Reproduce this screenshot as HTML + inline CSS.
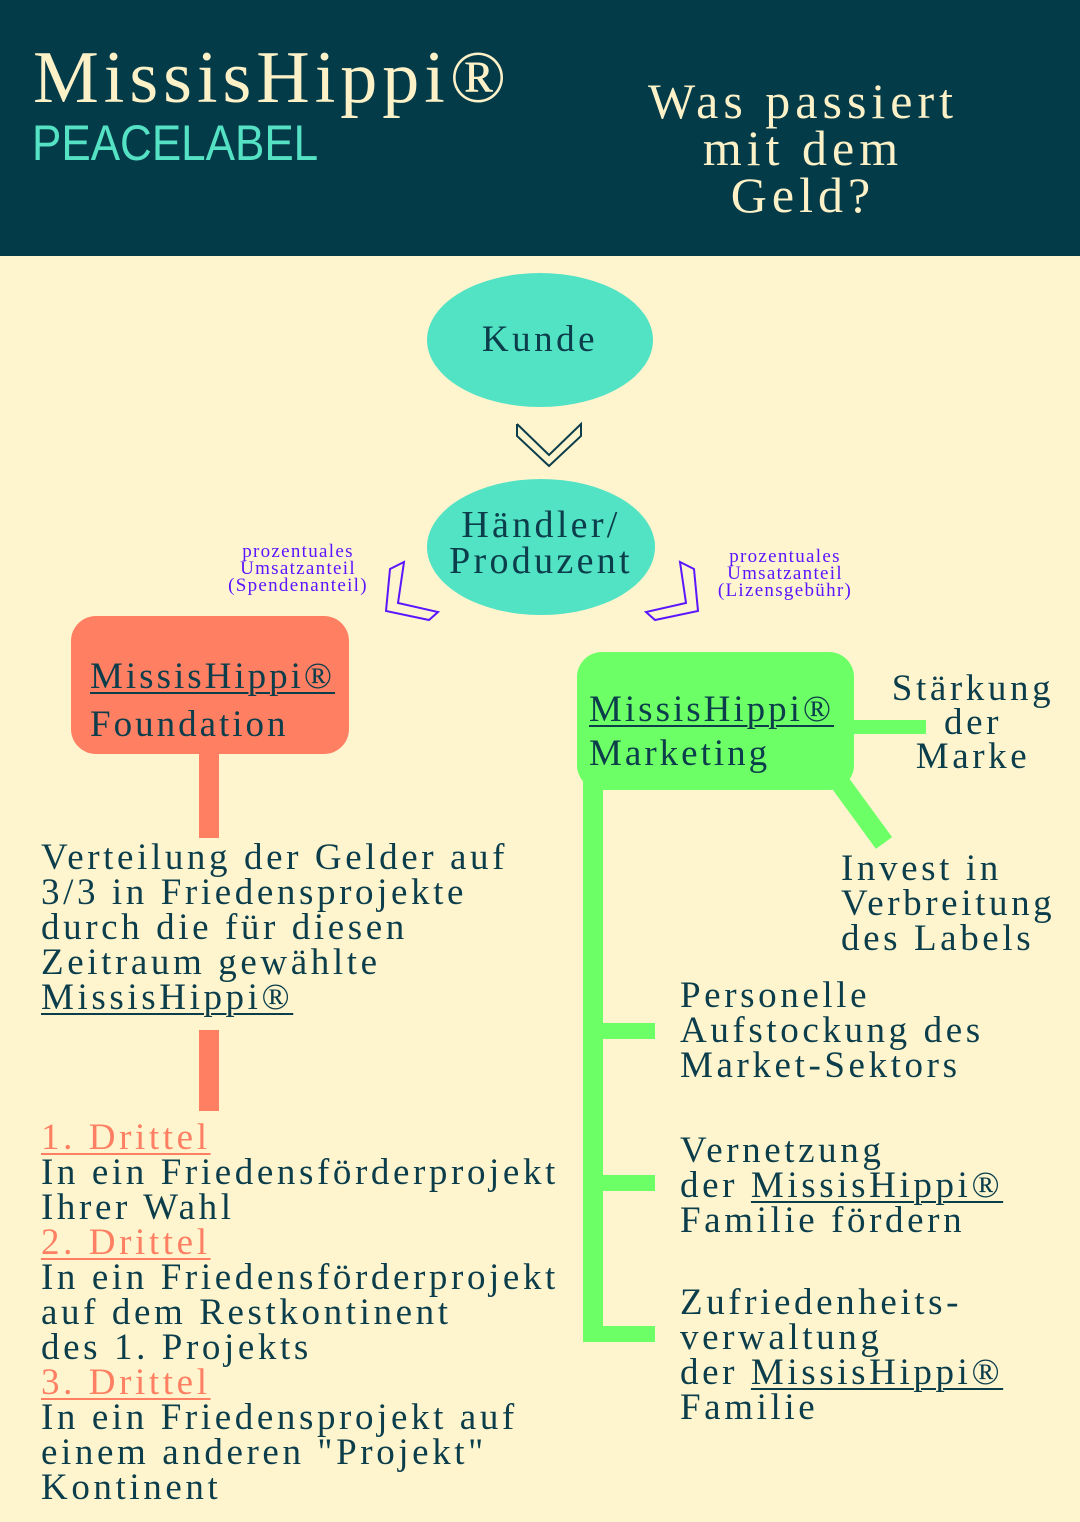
<!DOCTYPE html>
<html><head><meta charset="utf-8"><style>
*{margin:0;padding:0;box-sizing:border-box}
body{width:1080px;height:1522px;background:#fef5cf;position:relative;overflow:hidden;font-family:"Liberation Serif",serif;color:#0b3d4b}
.a{position:absolute;white-space:nowrap}
.t{font-size:37px;line-height:35px;letter-spacing:3.6px}
.u{text-decoration:underline;text-decoration-thickness:2px;text-underline-offset:4px}
.o{color:#ff7f63}
.p{color:#5b16ff;font-size:19px;line-height:17px;text-align:center;letter-spacing:1.3px}
</style></head><body>
<div class="a" style="left:0;top:0;width:1080px;height:256px;background:#033b49"></div>
<div class="a" style="left:33px;top:36px;font-size:74px;line-height:84px;color:#fdf1c8;letter-spacing:5px">MissisHippi®</div>
<div class="a" style="left:32px;top:116px;font-family:'Liberation Sans',sans-serif;font-size:50px;line-height:54px;color:#55e2c4;transform:scaleX(0.88);transform-origin:left top">PEACELABEL</div>
<div class="a" style="left:603px;top:78px;width:400px;text-align:center;font-size:50px;line-height:47px;color:#fdf1c8;letter-spacing:5px">Was passiert<br>mit dem<br>Geld?</div>

<svg class="a" style="left:0;top:0" width="1080" height="1522">
<ellipse cx="540" cy="340" rx="113" ry="67" fill="#52e2c4"/>
<ellipse cx="541" cy="547" rx="114" ry="68" fill="#52e2c4"/>
<polyline points="517,424 549,455 581,424 581,436 549,466 517,436 517,424" fill="none" stroke="#0b3d4b" stroke-width="2"/>
<polygon points="404,562 398,603 438,612 429,620 386,611 390,569" fill="none" stroke="#5b16ff" stroke-width="2"/>
<polygon points="680,562 686,603 646,612 655,620 698,611 694,569" fill="none" stroke="#5b16ff" stroke-width="2"/>
<rect x="71" y="616" width="278" height="138" rx="25" fill="#ff7f63"/>
<rect x="199" y="750" width="20" height="88" fill="#ff7f63"/>
<rect x="199" y="1030" width="20" height="81" fill="#ff7f63"/>
<rect x="577" y="652" width="277" height="138" rx="25" fill="#6dff66"/>
<rect x="583" y="780" width="20" height="562" fill="#6dff66"/>
<rect x="603" y="1023" width="52" height="16" fill="#6dff66"/>
<rect x="603" y="1175" width="52" height="16" fill="#6dff66"/>
<rect x="603" y="1326" width="52" height="16" fill="#6dff66"/>
<rect x="850" y="720" width="76" height="14" fill="#6dff66"/>
<line x1="838" y1="780" x2="884" y2="843" stroke="#6dff66" stroke-width="20"/>
</svg>

<div class="a" style="left:427px;top:320px;width:226px;text-align:center;font-size:37px;line-height:40px;letter-spacing:3.5px">Kunde</div>
<div class="a" style="left:427px;top:507px;width:228px;text-align:center;font-size:38px;line-height:36px;letter-spacing:3.3px">Händler/<br>Produzent</div>
<div class="a p" style="left:208px;top:543px;width:180px">prozentuales<br>Umsatzanteil<br>(Spendenanteil)</div>
<div class="a p" style="left:695px;top:548px;width:180px">prozentuales<br>Umsatzanteil<br>(Lizensgebühr)</div>

<div class="a t" style="left:90px;top:653px;line-height:48px;letter-spacing:3px"><span class="u">MissisHippi®</span><br>Foundation</div>
<div class="a t" style="left:589px;top:688px;line-height:44px;letter-spacing:3px"><span class="u">MissisHippi®</span><br>Marketing</div>

<div class="a t" style="left:41px;top:840px">Verteilung der Gelder auf<br>3/3 in Friedensprojekte<br>durch die für diesen<br>Zeitraum gewählte<br><span class="u">MissisHippi®</span></div>

<div class="a t" style="left:41px;top:1120px"><span class="u o">1. Drittel</span><br>In ein Friedensförderprojekt<br>Ihrer Wahl<br><span class="u o">2. Drittel</span><br>In ein Friedensförderprojekt<br>auf dem Restkontinent<br>des 1. Projekts<br><span class="u o">3. Drittel</span><br>In ein Friedensprojekt auf<br>einem anderen "Projekt"<br>Kontinent</div>

<div class="a t" style="left:880px;top:672px;width:186px;text-align:center;line-height:34px">Stärkung<br>der<br>Marke</div>
<div class="a t" style="left:841px;top:851px">Invest in<br>Verbreitung<br>des Labels</div>
<div class="a t" style="left:680px;top:978px">Personelle<br>Aufstockung des<br>Market-Sektors</div>
<div class="a t" style="left:680px;top:1133px">Vernetzung<br>der <span class="u">MissisHippi®</span><br>Familie fördern</div>
<div class="a t" style="left:680px;top:1285px">Zufriedenheits-<br>verwaltung<br>der <span class="u">MissisHippi®</span><br>Familie</div>
</body></html>
